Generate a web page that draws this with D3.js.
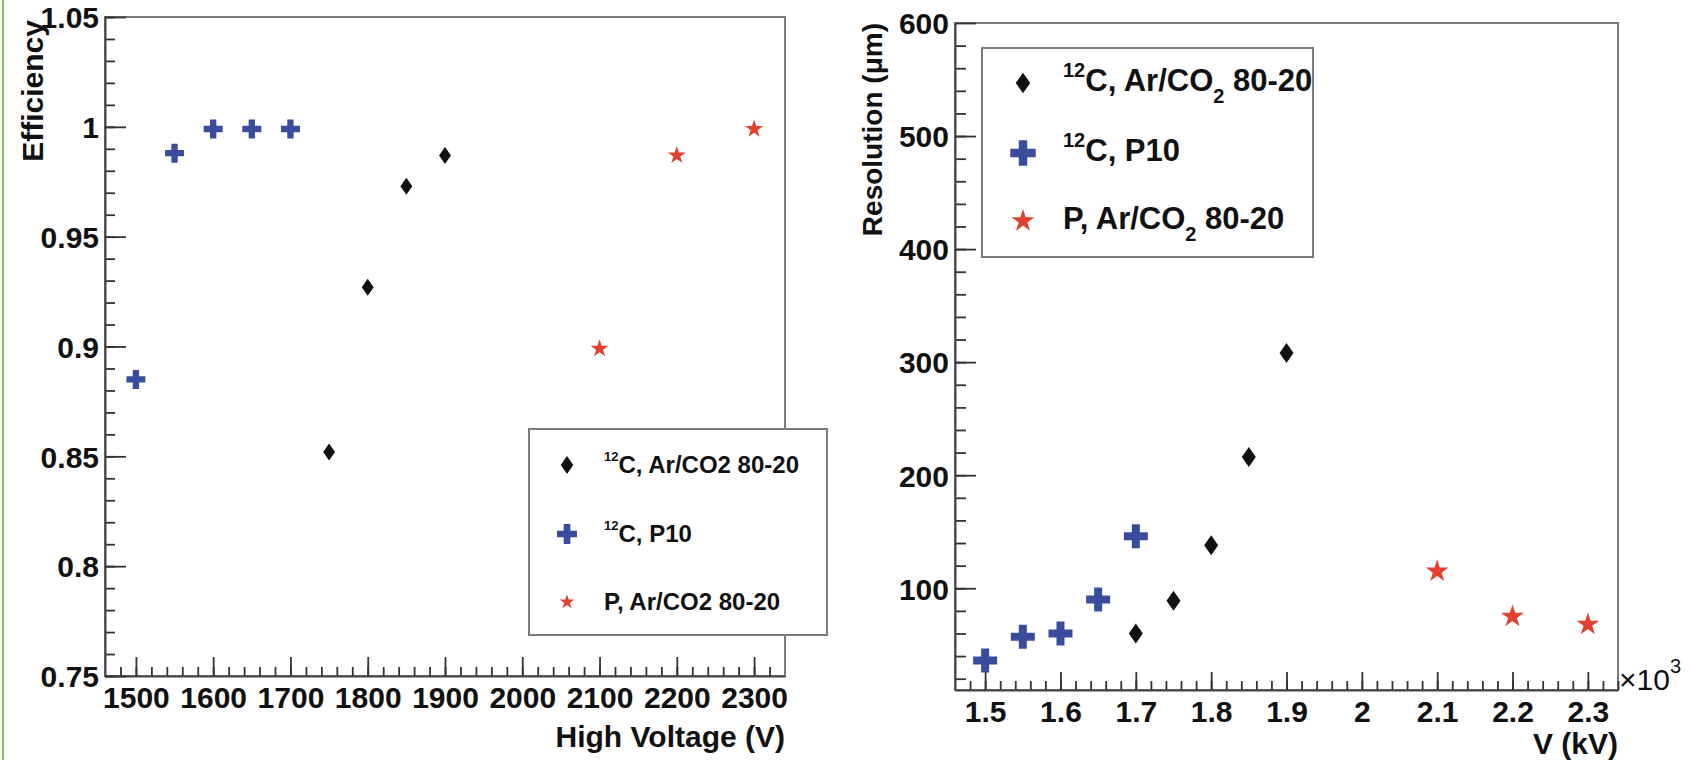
<!DOCTYPE html>
<html>
<head>
<meta charset="utf-8">
<script src="https://cdn.jsdelivr.net/npm/d3@7"></script>
<style>
  body { margin: 0; background: #fff; }
  svg text { font-family: "Liberation Sans", Arial, Helvetica, sans-serif; font-weight: bold; fill: #111; }
</style>
</head>
<body>
<svg id="chart" width="1693" height="760"></svg>
<script>
// efficiency vs high voltage (left panel)
const effCarbonArHV = [1750, 1800, 1850, 1900];
const effCarbonArVal = [0.852, 0.927, 0.973, 0.987];
const effCarbonP10HV = [1500, 1550, 1600, 1650, 1700];
const effCarbonP10Val = [0.885, 0.988, 0.999, 0.999, 0.999];
const effProtonArHV = [2100, 2200, 2300];
const effProtonArVal = [0.899, 0.987, 0.999];

// resolution vs voltage in kV (right panel)
const resCarbonArKV = [1.7, 1.75, 1.8, 1.85, 1.9];
const resCarbonArVal = [60, 89, 138, 216, 308];
const resCarbonP10KV = [1.5, 1.55, 1.6, 1.65, 1.7];
const resCarbonP10Val = [36, 57, 60, 90, 146];
const resProtonArKV = [2.1, 2.2, 2.3];
const resProtonArVal = [115, 75, 68];

// axis ticks
const hvTicks = [1500, 1600, 1700, 1800, 1900, 2000, 2100, 2200, 2300];
const effTicks = [0.75, 0.8, 0.85, 0.9, 0.95, 1, 1.05];
const kvTicks = [1.5, 1.6, 1.7, 1.8, 1.9, 2, 2.1, 2.2, 2.3];
const resTicks = [100, 200, 300, 400, 500, 600];

// legend texts
const seriesNames = ["C, Ar/CO2 80-20", "C, P10", "P, Ar/CO2 80-20"];
const seriesSup = ["12", "12", ""];

const colBlack = "#111111", colBlue = "#3a4c9c", colRed = "#e3402f";

// tall diamond like the ROOT marker
const tallDiamond = {
    draw(ctx, size) {
        const h = Math.sqrt(size / 0.35), w = 0.7 * h;
        ctx.moveTo(0, -h / 2);
        ctx.lineTo(w / 2, 0);
        ctx.lineTo(0, h / 2);
        ctx.lineTo(-w / 2, 0);
        ctx.closePath();
    }
};

const svg = d3.select("#chart");

// thin green border on the far left of the picture
svg.append("line")
    .attr("x1", 3).attr("x2", 3).attr("y1", 0).attr("y2", 760)
    .attr("stroke", "#86c160").attr("stroke-width", 2);

// draw one framed panel with inward ticks
function drawPanel(p) {
    const g = svg.append("g");
    const x = d3.scaleLinear().domain(p.xDomain).range([p.left, p.right]);
    const y = d3.scaleLinear().domain(p.yDomain).range([p.bottom, p.top]);

    // frame (top/right lighter)
    g.append("rect")
        .attr("x", p.left).attr("y", p.top)
        .attr("width", p.right - p.left).attr("height", p.bottom - p.top)
        .attr("fill", "none").attr("stroke", "#7a7a7a").attr("stroke-width", 2);

    // minor ticks
    g.append("g").attr("transform", `translate(0,${p.bottom})`)
        .call(d3.axisBottom(x).tickValues(p.xMinor).tickSize(-p.xMinorLen).tickFormat("").tickSizeOuter(0))
        .call(a => a.select(".domain").remove())
        .selectAll("line").attr("stroke", "#333").attr("stroke-width", 1.6);
    g.append("g").attr("transform", `translate(${p.left},0)`)
        .call(d3.axisLeft(y).tickValues(p.yMinor).tickSize(-p.yMinorLen).tickFormat("").tickSizeOuter(0))
        .call(a => a.select(".domain").remove())
        .selectAll("line").attr("stroke", "#333").attr("stroke-width", 1.6);

    // major ticks + labels
    const xa = g.append("g").attr("transform", `translate(0,${p.bottom})`)
        .call(d3.axisBottom(x).tickValues(p.xTicks).tickSize(-p.xMajorLen).tickSizeOuter(0)
            .tickPadding(0).tickFormat(p.xFormat));
    xa.selectAll("text").attr("font-size", 30).attr("dy", null).attr("y", p.xLabelDy)
        .attr("font-family", null).attr("fill", "#111");
    const ya = g.append("g").attr("transform", `translate(${p.left},0)`)
        .call(d3.axisLeft(y).tickValues(p.yTicks).tickSize(-p.yMajorLen).tickSizeOuter(0)
            .tickPadding(6).tickFormat(p.yFormat));
    ya.selectAll("text").attr("font-size", 30).attr("dy", "0.36em")
        .attr("font-family", null).attr("fill", "#111");
    g.selectAll(".tick line").attr("stroke", "#333").attr("stroke-width", 1.8);
    g.selectAll(".domain").attr("stroke", "#444").attr("stroke-width", 2);

    // axis titles, right/top aligned like ROOT
    g.append("text")
        .attr("x", p.right).attr("y", p.xTitleY)
        .attr("text-anchor", "end").attr("font-size", 30)
        .text(p.xTitle);
    g.append("text")
        .attr("transform", `translate(${p.yTitleX},${p.top + p.yTitleOff}) rotate(-90)`)
        .attr("text-anchor", "end").attr("font-size", p.yTitleSize)
        .text(p.yTitle);

    return { x, y, g };
}

// draw one series of markers
function drawSeries(panel, xs, ys, type, size, color) {
    panel.g.selectAll(null)
        .data(xs.map((d, i) => [d, ys[i]]))
        .enter().append("path")
        .attr("transform", d => `translate(${panel.x(d[0])},${panel.y(d[1])})`)
        .attr("d", d3.symbol().type(type).size(size))
        .attr("fill", color);
}

// legend box with white fill covering the frame
function drawLegend(l) {
    const g = svg.append("g");
    g.append("rect")
        .attr("x", l.x).attr("y", l.y).attr("width", l.w).attr("height", l.h)
        .attr("fill", "#fff").attr("stroke", "#7a7a7a").attr("stroke-width", 2);
    const types = [tallDiamond, d3.symbolCross, d3.symbolStar];
    const colors = [colBlack, colBlue, colRed];
    seriesNames.forEach((name, i) => {
        g.append("path")
            .attr("transform", `translate(${l.markX},${l.rowY[i] - l.markUp})`)
            .attr("d", d3.symbol().type(types[i]).size(l.sizes[i]))
            .attr("fill", colors[i]);
        const t = g.append("text")
            .attr("x", l.textX).attr("y", l.rowY[i])
            .attr("font-size", l.font);
        let shift = 0;
        if (seriesSup[i]) {
            t.append("tspan").attr("font-size", l.supFont).attr("dy", -l.supRise).text(seriesSup[i]);
            shift = l.supRise;
        }
        if (l.subscript && name.includes("CO2")) {
            const parts = name.split("CO2");
            t.append("tspan").attr("dy", shift).text(parts[0] + "CO");
            t.append("tspan").attr("font-size", l.supFont).attr("dy", l.subDrop).text("2");
            t.append("tspan").attr("dy", -l.subDrop).text(parts[1]);
        } else {
            t.append("tspan").attr("dy", shift).text(name);
        }
    });
}

// ---------- left panel: efficiency ----------
const left = drawPanel({
    left: 105, right: 785, top: 17, bottom: 676,
    xDomain: [1460, 2340], yDomain: [0.75, 1.05],
    xTicks: hvTicks, yTicks: effTicks,
    xMinor: d3.range(1480, 2340, 20), yMinor: d3.range(0, 31).map(i => 0.75 + i * 0.01),
    xMajorLen: 19, xMinorLen: 9, yMajorLen: 21, yMinorLen: 10,
    xFormat: d3.format("d"), yFormat: d3.format("~g"),
    xLabelDy: 32, xTitle: "High Voltage (V)", xTitleY: 747,
    yTitle: "Efficiency", yTitleX: 43, yTitleOff: 3, yTitleSize: 30
});
drawSeries(left, effCarbonArHV, effCarbonArVal, tallDiamond, 101, colBlack);
drawSeries(left, effCarbonP10HV, effCarbonP10Val, d3.symbolCross, 200, colBlue);
drawSeries(left, effProtonArHV, effProtonArVal, d3.symbolStar, 101, colRed);

drawLegend({
    x: 529, y: 429, w: 298, h: 206,
    markX: 567, markUp: 8, textX: 604, rowY: [473, 542, 610],
    sizes: [113, 222, 67], font: 24, supFont: 13, supRise: 12, subscript: false
});

// ---------- right panel: resolution ----------
const right = drawPanel({
    left: 955, right: 1618, top: 23, bottom: 690,
    xDomain: [1.46, 2.34], yDomain: [10, 600],
    xTicks: kvTicks, yTicks: resTicks,
    xMinor: d3.range(0, 44).map(i => 1.48 + i * 0.02), yMinor: d3.range(20, 600, 20),
    xMajorLen: 18, xMinorLen: 9, yMajorLen: 21, yMinorLen: 11,
    xFormat: d3.format("~g"), yFormat: d3.format("d"),
    xLabelDy: 32, xTitle: "V (kV)", xTitleY: 754,
    yTitle: "Resolution (\u03bcm)", yTitleX: 882, yTitleOff: 0, yTitleSize: 28
});
drawSeries(right, resCarbonArKV, resCarbonArVal, tallDiamond, 140, colBlack);
drawSeries(right, resCarbonP10KV, resCarbonP10Val, d3.symbolCross, 320, colBlue);
drawSeries(right, resProtonArKV, resProtonArVal, d3.symbolStar, 162, colRed);

drawLegend({
    x: 982, y: 48, w: 331, h: 209,
    markX: 1023, markUp: 8, textX: 1063, rowY: [91, 161, 229],
    sizes: [150, 360, 160], font: 31, supFont: 20, supRise: 14, subDrop: 12, subscript: true
});

// x10^3 multiplier at the end of the kV axis
const mult = svg.append("text").attr("x", 1619).attr("y", 690).attr("font-size", 30).style("font-weight", "normal");
mult.append("tspan").text("\u00d710");
mult.append("tspan").attr("font-size", 20).attr("dy", -17).text("3");
</script>
</body>
</html>
